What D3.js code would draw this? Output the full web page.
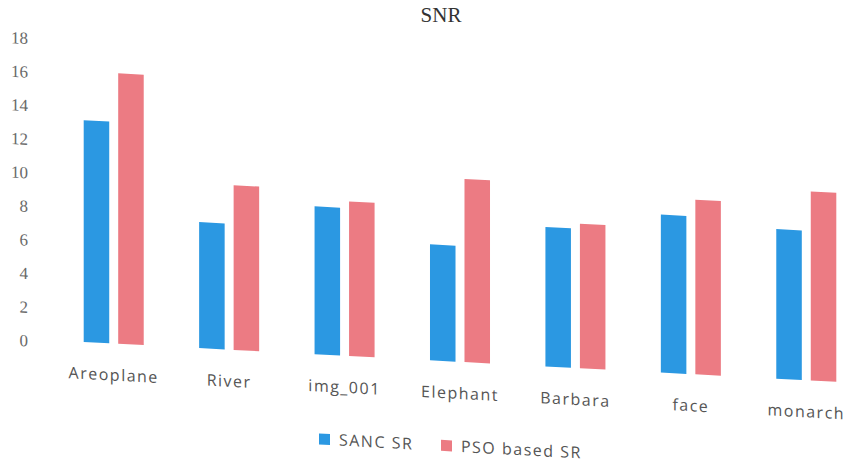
<!DOCTYPE html>
<html>
<head>
<meta charset="utf-8">
<script src="https://cdn.jsdelivr.net/npm/d3@7"></script>
<style>
  html, body { margin: 0; padding: 0; background: #fff; }
  svg { display: block; }
</style>
</head>
<body>
<svg id="chart" width="850" height="467"></svg>
<script>
// SNR per test image for the two super-resolution methods
const categories = ["Areoplane", "River", "img_001", "Elephant", "Barbara", "face", "monarch"];
const seriesNames = ["SANC SR", "PSO based SR"];
const sancValues = [13.2, 7.5, 8.8, 6.9, 8.3, 9.4, 8.9];
const psoValues = [16.1, 9.8, 9.2, 10.9, 8.6, 10.4, 11.25];
const yTicks = [0, 2, 4, 6, 8, 10, 12, 14, 16, 18];
const colors = ["#2b98e2", "#ec7b83"];

const svg = d3.select("#chart");

// the page is drawn slightly sheared, like a sheet viewed at an angle
const g = svg.append("g").attr("transform", "matrix(1,0.053,0,1,0,0)");

const y = d3.scaleLinear().domain([0, 18]).range([337.5, 35.1]);

const x0 = d3.scaleBand()
  .domain(categories)
  .range([56, 864])
  .paddingInner(0.48)
  .paddingOuter(0.24);

const x1 = d3.scaleBand()
  .domain(seriesNames)
  .range([0, x0.bandwidth()])
  .paddingInner(0.26);

const rows = categories.map((c, i) => ({
  cat: c,
  vals: [sancValues[i], psoValues[i]]
}));

// y axis labels only (no line, no ticks)
const yAxis = d3.axisLeft(y).tickValues(yTicks).tickSize(0).tickPadding(0);
const ya = g.append("g").attr("transform", "translate(28,1.5)").call(yAxis);
ya.select(".domain").remove();
ya.selectAll("text")
  .attr("font-family", "'Liberation Serif', serif")
  .attr("font-size", 17)
  .attr("fill", "#6a6a6a");

// bars
const groups = g.selectAll("g.cat")
  .data(rows)
  .join("g")
  .attr("class", "cat")
  .attr("transform", d => `translate(${x0(d.cat)},0)`);

groups.selectAll("rect")
  .data(d => d.vals.map((v, k) => ({ key: seriesNames[k], v, k })))
  .join("rect")
  .attr("x", d => x1(d.key))
  .attr("y", d => y(d.v))
  .attr("width", x1.bandwidth())
  .attr("height", d => y(0) - y(d.v))
  .attr("fill", d => colors[d.k]);

// category labels
const xAxis = d3.axisBottom(x0).tickSize(0).tickPadding(0);
const xa = g.append("g").attr("transform", "translate(0,369)").call(xAxis);
xa.select(".domain").remove();
xa.selectAll("text")
  .attr("dy", "0.35em")
  .attr("font-family", "'Open Sans', sans-serif")
  .attr("font-size", 16)
  .attr("letter-spacing", 1.5)
  .attr("fill", "#555");

// legend
const legendX = [319, 441];
const legend = g.append("g").attr("transform", "translate(0,422)");
const items = legend.selectAll("g")
  .data(seriesNames)
  .join("g")
  .attr("transform", (d, i) => `translate(${legendX[i]},0)`);
items.append("rect")
  .attr("x", 0).attr("y", -5.5)
  .attr("width", 11).attr("height", 11)
  .attr("fill", (d, i) => colors[i]);
items.append("text")
  .attr("x", 20).attr("y", 0).attr("dy", "0.35em")
  .attr("font-family", "'Open Sans', sans-serif")
  .attr("font-size", 16)
  .attr("letter-spacing", 1.5)
  .attr("fill", "#555")
  .text(d => d);

// title
svg.append("text")
  .attr("x", 441).attr("y", 15).attr("dy", "0.35em")
  .attr("text-anchor", "middle")
  .attr("font-family", "'Liberation Serif', serif")
  .attr("font-size", 21)
  .attr("fill", "#333")
  .text("SNR");
</script>
</body>
</html>
